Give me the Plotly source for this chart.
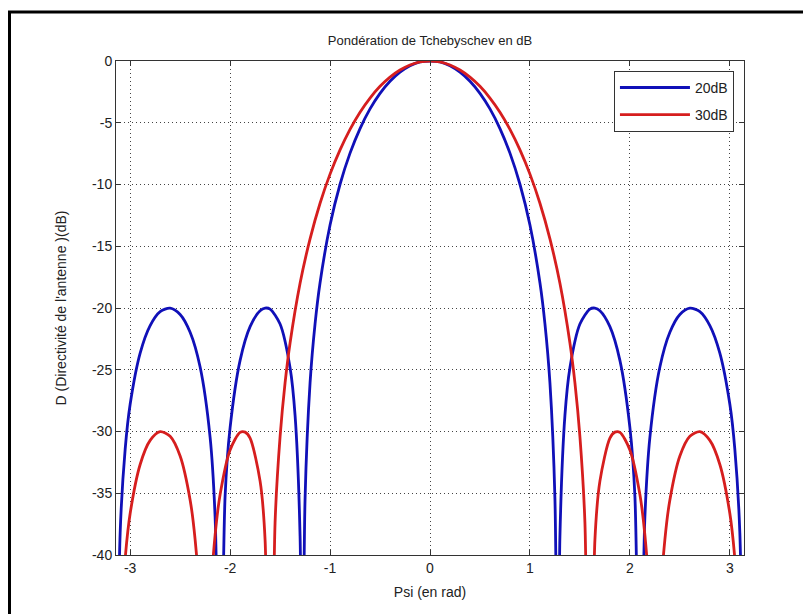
import plotly.graph_objects as go

# Psi samples (rad) and directivity (dB)
psi_20 = [-3.1416, -3.1, -3.05, -3.0, -2.9, -2.8, -2.7, -2.6, -2.5, -2.4, -2.3, -2.2, -2.15, -2.1, -2.05,
          -2.0, -1.9, -1.8, -1.7, -1.65, -1.6, -1.5, -1.4, -1.35, -1.3, -1.28, -1.25, -1.2, -1.15, -1.1,
          -1.0, -0.9, -0.8, -0.7, -0.6, -0.5, -0.4, -0.3, -0.2, -0.1, 0.0,
          0.1, 0.2, 0.3, 0.4, 0.5, 0.6, 0.7, 0.8, 0.9, 1.0,
          1.1, 1.15, 1.2, 1.25, 1.28, 1.3, 1.35, 1.4, 1.5, 1.6, 1.65, 1.7, 1.8, 1.9, 2.0,
          2.05, 2.1, 2.15, 2.2, 2.3, 2.4, 2.5, 2.6, 2.7, 2.8, 2.9, 3.0, 3.05, 3.1, 3.1416]
d_20 = [-66.0, -38.21, -31.44, -27.80, -23.65, -21.42, -20.29, -20.01, -20.52, -21.96, -24.78, -30.47, -36.92, -56.3, -35.23,
        -29.69, -24.24, -21.51, -20.22, -20.01, -20.09, -21.30, -24.83, -28.70, -38.46, -60.0, -35.46, -26.07, -21.28, -17.95,
        -13.28, -9.98, -7.46, -5.47, -3.88, -2.62, -1.64, -0.90, -0.38, -0.07, 0.0,
        -0.07, -0.38, -0.90, -1.64, -2.62, -3.88, -5.47, -7.46, -9.98, -13.28,
        -17.95, -21.28, -26.07, -35.46, -60.0, -38.46, -28.70, -24.83, -21.30, -20.09, -20.01, -20.22, -21.51, -24.24, -29.69,
        -35.23, -56.3, -36.92, -30.47, -24.78, -21.96, -20.52, -20.01, -20.29, -21.42, -23.65, -27.80, -31.44, -38.21, -66.0]

psi_30 = [-3.1416, -3.1, -3.05, -3.0, -2.9, -2.8, -2.7, -2.6, -2.5, -2.4, -2.35, -2.3, -2.25, -2.2, -2.15,
          -2.1, -2.0, -1.9, -1.85, -1.8, -1.7, -1.65, -1.6, -1.55, -1.5, -1.45, -1.4, -1.3, -1.2, -1.1,
          -1.0, -0.9, -0.8, -0.7, -0.6, -0.5, -0.4, -0.3, -0.2, -0.1, 0.0,
          0.1, 0.2, 0.3, 0.4, 0.5, 0.6, 0.7, 0.8, 0.9, 1.0,
          1.1, 1.2, 1.3, 1.4, 1.45, 1.5, 1.55, 1.6, 1.65, 1.7, 1.8, 1.85, 1.9, 2.0, 2.1,
          2.15, 2.2, 2.25, 2.3, 2.35, 2.4, 2.5, 2.6, 2.7, 2.8, 2.9, 3.0, 3.05, 3.1, 3.1416]
d_30 = [-80.0, -46.99, -40.30, -36.64, -32.67, -30.72, -30.01, -30.39, -31.99, -35.54, -38.75, -44.64, -74.0, -44.30, -38.40,
        -35.10, -31.49, -30.07, -30.05, -30.54, -34.02, -38.78, -69.0, -37.37, -30.42, -26.07, -22.83, -18.00, -14.40, -11.52,
        -9.16, -7.20, -5.54, -4.15, -3.00, -2.05, -1.30, -0.73, -0.32, -0.08, 0.0,
        -0.08, -0.32, -0.73, -1.30, -2.05, -3.00, -4.15, -5.54, -7.20, -9.16,
        -11.52, -14.40, -18.00, -22.83, -26.07, -30.42, -37.37, -69.0, -38.78, -34.02, -30.54, -30.05, -30.07, -31.49, -35.10,
        -38.40, -44.30, -74.0, -44.64, -38.75, -35.54, -31.99, -30.39, -30.01, -30.72, -32.67, -36.64, -40.30, -46.99, -80.0]

series_names = ["20dB", "30dB"]
x_ticks = [-3, -2, -1, 0, 1, 2, 3]
y_ticks = [0, -5, -10, -15, -20, -25, -30, -35, -40]

fig = go.Figure()
fig.add_trace(go.Scatter(x=psi_20, y=d_20, mode="lines", name=series_names[0], legendgroup="a",
                         line=dict(color="#1010b8", width=2.8, shape="spline", smoothing=0.8)))
fig.add_trace(go.Scatter(x=psi_30, y=d_30, mode="lines", name=series_names[1], legendgroup="b",
                         line=dict(color="#d61e1e", width=2.8, shape="spline", smoothing=0.8)))

axis_common = dict(showline=True, linecolor="#333333", linewidth=1, mirror="ticks",
                   ticks="inside", ticklen=5, tickcolor="#333333",
                   showgrid=True, gridcolor="#444444", gridwidth=1, griddash="1px,3px",
                   zeroline=False, tickfont=dict(size=14, color="#222222"))

fig.update_xaxes(range=[-3.1416, 3.1416], tickvals=x_ticks, ticktext=[str(v) for v in x_ticks],
                 title=dict(text="Psi (en rad)", font=dict(size=14, color="#222222"), standoff=12),
                 **axis_common)
fig.update_yaxes(range=[-40, 0], tickvals=y_ticks, ticktext=[str(v) for v in y_ticks],
                 title=dict(text="D (Directivité de l'antenne )(dB)", font=dict(size=14, color="#222222"), standoff=22),
                 **axis_common)

# outer figure frame (page is shifted 8px by the body margin)
fig.add_shape(type="rect", xref="paper", yref="paper",
              x0=(1.5 - 108) / 628, x1=(798 - 108) / 628, y0=(547 - 640) / 494, y1=(547 - 4) / 494,
              line=dict(color="black", width=3), fillcolor="rgba(0,0,0,0)", layer="below")

fig.update_layout(
    width=811, height=614,
    margin=dict(l=108, r=75, t=53, b=67),
    paper_bgcolor="white", plot_bgcolor="white",
    font=dict(family="Liberation Sans, Arial, sans-serif", size=14, color="#222222"),
    title=dict(text="Pondération de Tchebyschev en dB", x=0.5, xref="paper", xanchor="center",
               y=1 - 32 / 614, yref="container", yanchor="middle",
               font=dict(size=13, color="#222222")),
    legend=dict(x=0.984, y=0.98, xanchor="right", yanchor="top", bgcolor="white",
                bordercolor="#333333", borderwidth=1, font=dict(size=14, color="#222222"),
                itemwidth=70, tracegroupgap=6),
    showlegend=True,
)

fig.write_html("out.html")
